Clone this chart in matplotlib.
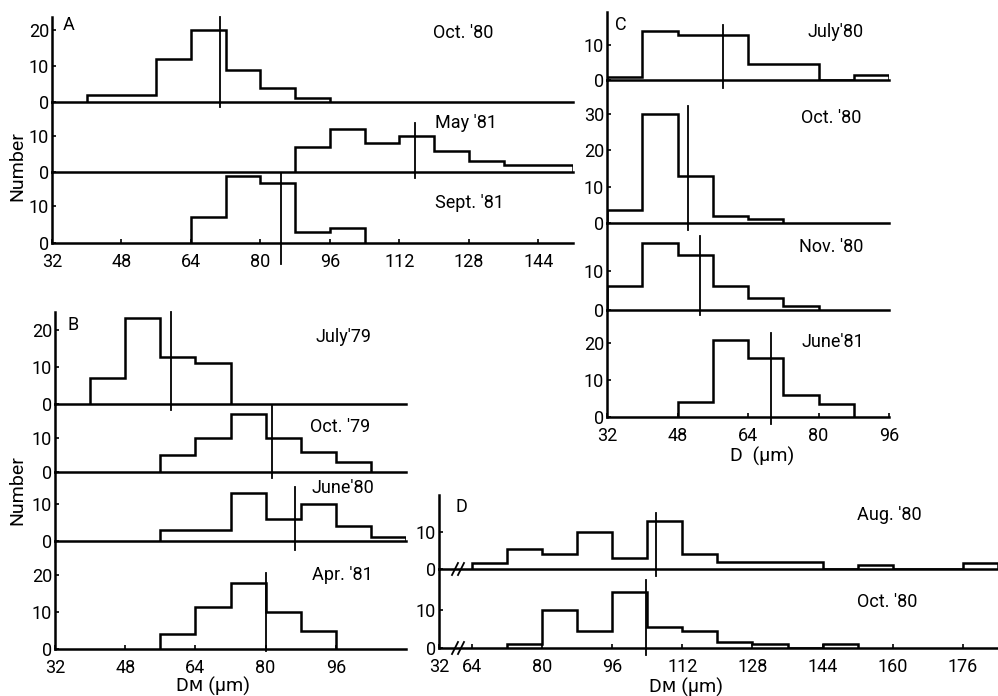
import matplotlib.pyplot as plt
from matplotlib.lines import Line2D

plt.rcParams['font.family'] = ['Roboto', 'DejaVu Sans']

# ---- panel A ----
a_labels = ["Oct. '80", "May '81", "Sept. '81"]
a_edges = [[40, 48, 56, 64, 72, 80, 88, 96],
           [88, 96, 104, 112, 120, 128, 136, 144, 152],
           [64, 72, 80, 88, 96, 104]]
a_counts = [[2, 2, 12, 20, 9, 4, 1],
            [7, 12, 8, 10, 6, 3, 2, 2],
            [7, 18, 16, 3, 4]]
a_means = [70.8, 115.7, 84.8]
a_xticks = [32, 48, 64, 80, 96, 112, 128, 144]
a_yticks = [[0, 10, 20], [0, 10], [0, 10]]

# ---- panel B ----
b_labels = ["July'79", "Oct. '79", "June'80", "Apr. '81"]
b_edges = [[40, 48, 56, 64, 72],
           [56, 64, 72, 80, 88, 96, 104],
           [56, 64, 72, 80, 88, 96, 104, 112],
           [56, 64, 72, 80, 88, 96]]
b_counts = [[7, 23, 12.5, 11],
            [5, 10, 17, 10, 6, 3],
            [3, 3, 13, 6, 10, 4, 1],
            [4, 11.5, 18, 10, 5]]
b_means = [58.4, 81.5, 86.7, 80]
b_xticks = [32, 48, 64, 80, 96]
b_yticks = [[0, 10, 20], [0, 10], [0, 10], [0, 10, 20]]

# ---- panel C ----
c_labels = ["July'80", "Oct. '80", "Nov. '80", "June'81"]
c_edges = [[32, 40, 48, 56, 64, 72, 80, 88, 96],
           [32, 40, 48, 56, 64, 72],
           [32, 40, 48, 56, 64, 72, 80],
           [48, 56, 64, 72, 80, 88]]
c_counts = [[1, 14, 13, 13, 4.5, 4.5, 0, 1.5],
            [3.5, 30, 13, 2, 1],
            [6, 17, 14, 6, 3, 1],
            [4, 21, 16, 6, 3.5]]
c_means = [58.3, 50.4, 53.2, 69.3]
c_xticks = [32, 48, 64, 80, 96]
c_yticks = [[0, 10], [0, 10, 20, 30], [0, 10], [0, 10, 20]]

# ---- panel D (broken axis: 32 // 64 ...) ----
d_labels = ["Aug. '80", "Oct. '80"]
d_edges = [[64, 72, 80, 88, 96, 104, 112, 120, 128, 136, 144, 152, 160, 168, 176, 184],
           [72, 80, 88, 96, 104, 112, 120, 128, 136, 144, 152]]
d_counts = [[1.5, 5.5, 4, 10, 3, 13, 4, 2, 2, 2, 0, 1, 0, 0, 1.5],
            [1, 10, 4.5, 15, 5.5, 4.5, 1.5, 1, 0, 1]]
d_means = [106.1, 103.8]
d_xticks = [64, 80, 96, 112, 128, 144, 160, 176]
d_yticks = [[0, 10], [0, 10]]

W, H = 998, 696
fig = plt.figure(figsize=(W / 100, H / 100), dpi=100)


def px_axes(x0, x1, y0, y1):
    return fig.add_axes([x0 / W, 1 - y1 / H, (x1 - x0) / W, (y1 - y0) / H])


def ftext(x, y, s, **kw):
    fig.text(x / W, 1 - y / H, s, **kw)


def draw_panel(cols, rows, xlim, xticks, xticklabels, labels, edges, counts,
               means, spans, ytops, yticks, label_xy):
    axes = []
    n = len(labels)
    for i in range(n):
        ax = px_axes(cols[0], cols[1], rows[i], rows[i + 1])
        ax.patch.set_alpha(0)
        ax.stairs(counts[i], edges[i], baseline=0, color='black', lw=1.8)
        ax.plot([means[i], means[i]], spans[i], color='black', lw=1.3,
                clip_on=False)
        ax.set_xlim(xlim)
        ax.set_ylim(0, ytops[i])
        ax.set_yticks(yticks[i])
        ax.set_xticks(xticks)
        ax.set_xticklabels(xticklabels)
        for s in ('top', 'right'):
            ax.spines[s].set_visible(False)
        for s in ('left', 'bottom'):
            ax.spines[s].set_linewidth(1.8)
        ax.tick_params(direction='in', length=3, width=1.2, labelsize=13,
                       pad=2)
        ax.tick_params(axis='x', pad=7)
        if i < n - 1:
            ax.tick_params(axis='x', bottom=False, labelbottom=False)
        ftext(label_xy[i][0], label_xy[i][1], labels[i], ha='left',
              va='center', fontsize=13)
        axes.append(ax)
    return axes


draw_panel((52, 573), [17, 102, 172, 243], (32, 152), a_xticks,
           [str(t) for t in a_xticks], a_labels, a_edges, a_counts, a_means,
           [(-1.5, 23.7), (-1.7, 13.7), (-5.5, 18.6)], [23.7, 19.6, 19.0],
           a_yticks, [(433, 33), (435, 123), (435, 203)])

draw_panel((55, 406), [312, 404, 472, 541, 649], (32, 112), b_xticks,
           [str(t) for t in b_xticks], b_labels, b_edges, b_counts, b_means,
           [(-1.5, 24.7), (-1.8, 19.3), (-2.5, 14.5), (-0.5, 20.6)],
           [24.7, 20, 18.6, 29.3], b_yticks,
           [(315, 337), (310, 427), (312, 488), (312, 575)])

draw_panel((607, 889), [12, 80, 223, 310, 417], (32, 96), c_xticks,
           [str(t) for t in c_xticks], c_labels, c_edges, c_counts, c_means,
           [(-2.4, 15.7), (-2, 32.1), (-1.3, 18.9), (-1.8, 22.7)],
           [19.5, 39.3, 22.2, 29], c_yticks,
           [(807, 32), (801, 118), (799, 247), (801, 342)])

d_left = 56.5
draw_panel((439, 998), [495, 569, 648], (d_left, 184), [d_left] + d_xticks,
           ['32'] + [str(t) for t in d_xticks], d_labels, d_edges, d_counts,
           d_means, [(-1.9, 15.2), (-1.9, 18)], [20, 21], d_yticks,
           [(857, 515), (857, 602)])

# axis break marks in panel D
for base in (569, 648):
    for x in (452, 458):
        fig.add_artist(Line2D([x / W, (x + 6) / W],
                              [1 - (base + 6) / H, 1 - (base - 6) / H],
                              transform=fig.transFigure, color='black', lw=1.3))

# panel letters
ftext(69, 25, 'A', fontsize=13, ha='center', va='center')
ftext(73, 325, 'B', fontsize=13, ha='center', va='center')
ftext(621, 25, 'C', fontsize=13, ha='center', va='center')
ftext(461, 507, 'D', fontsize=13, ha='center', va='center')

# axis titles
ftext(17, 166, 'Number', rotation=90, fontsize=14, ha='center', va='center')
ftext(17, 490, 'Number', rotation=90, fontsize=14, ha='center', va='center')
ftext(213, 686, 'D\u1d0d (\u03bcm)', fontsize=14, ha='center', va='center')
ftext(762, 456, 'D  (\u03bcm)', fontsize=14, ha='center', va='center')
ftext(686, 687, 'D\u1d0d (\u03bcm)', fontsize=14, ha='center', va='center')

fig.savefig('out.png', dpi=100)
